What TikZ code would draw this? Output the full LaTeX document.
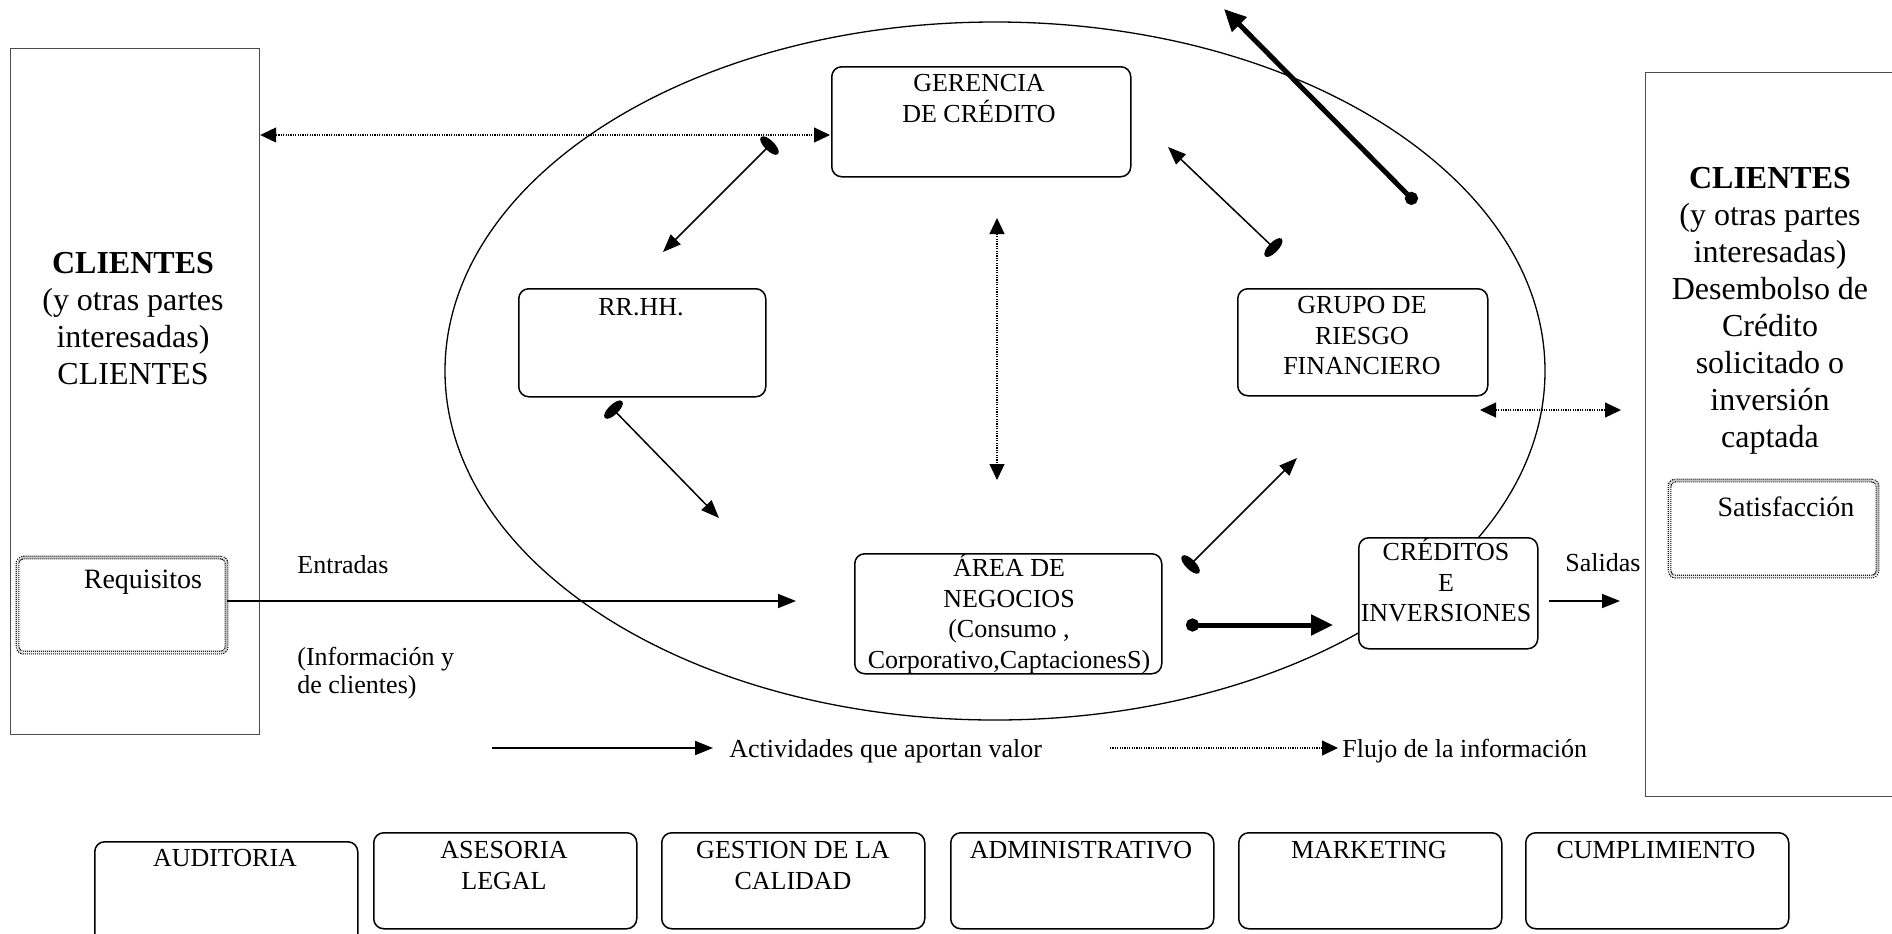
\documentclass[tikz,border=0pt]{standalone}
\usepackage{fontspec}
\setmainfont{Liberation Serif}
\usetikzlibrary{arrows.meta,shapes.geometric}

\tikzset{
  box/.style={draw, line width=0.75pt, rounded corners=5pt, fill=white, inner sep=0pt, anchor=north west},
  client/.style={draw=black!70, line width=0.6pt, inner sep=0pt, anchor=north west},
  dotbox/.style={draw, line width=0.55pt, dash pattern=on 0.5pt off 0.5pt, double, double distance=0.8pt,
    rounded corners=3pt, inner sep=0pt, anchor=north west},
  lbl/.style={inner sep=0pt, font=\fontsize{13}{15.3}\selectfont, align=center, anchor=north},
  lbll/.style={inner sep=0pt, font=\fontsize{13}{14}\selectfont, align=left, anchor=north west},
  big/.style={inner sep=0pt, font=\fontsize{16}{18.5}\selectfont, align=center, anchor=north},
  mid/.style={inner sep=0pt, font=\fontsize{14}{16}\selectfont},
  flow/.style={line width=0.8pt, -{Triangle[length=9pt,width=7pt]}},
  info/.style={line width=0.6pt, dash pattern=on 0.6pt off 0.6pt,
    {Triangle[length=8pt,width=7.5pt]}-{Triangle[length=8pt,width=7.5pt]}},
  infoone/.style={line width=0.6pt, dash pattern=on 0.6pt off 0.6pt, -{Triangle[length=8pt,width=7.5pt]}},
  ovalflow/.style={line width=0.75pt, {Ellipse[length=5pt,width=12pt]}-{Triangle[length=9pt,width=7pt]}},
  heavy/.style={line width=2.5pt, {Circle[length=6.5pt]}-{Triangle[length=11pt,width=10pt]}},
}

\begin{document}
\begin{tikzpicture}[x=0.5pt,y=-0.5pt]
\useasboundingbox (0,0) rectangle (1892,933);

% clients on both sides
\node[client, minimum width=124.5pt, minimum height=343pt] (cliL) at (10,48) {};
\node[client, minimum width=130pt, minimum height=362pt] (cliR) at (1645,72) {};
\node[big] (cliLT) at (133,252) {\textbf{CLIENTES}\\(y otras partes\\interesadas)\\CLIENTES};
\node[big] (cliRT) at (1770,167) {\textbf{CLIENTES}\\(y otras partes\\interesadas)\\Desembolso de\\Crédito\\solicitado o\\inversión\\captada};

% requirement and satisfaction boxes
\node[dotbox, minimum width=104.5pt, minimum height=47.5pt] (req) at (17,557) {};
\node[mid] (reqT) at (143,582) {Requisitos};
\node[dotbox, minimum width=104pt, minimum height=48pt] (sat) at (1669,480) {};
\node[mid] (satT) at (1786,507) {Satisfacción};

% process boundary
\node[draw, line width=0.65pt, ellipse, inner sep=0pt, minimum width=550pt, minimum height=349pt] (proc) at (995,371) {};

% inputs
\coordinate (entEnd) at (796,601);
\draw[flow] (req.east |- entEnd) -- (entEnd);
\node[lbll] (entT) at (297,555) {Entradas};
\node[lbll] (infT) at (297,647) {(Información y\\de clientes)};

% inner units
\node[box, minimum width=149.5pt, minimum height=55pt] (ger) at (831,66) {};
\node[lbl] (gerT) at (979,74) {GERENCIA\\DE CRÉDITO};
\node[box, minimum width=123.5pt, minimum height=54pt] (rrhh) at (518,288) {};
\node[lbl] (rrhhT) at (641,298) {RR.HH.};
\node[box, minimum width=125pt, minimum height=53.5pt] (grupo) at (1237,288) {};
\node[lbl] (grupoT) at (1362,296) {GRUPO DE\\RIESGO\\FINANCIERO};
\node[box, minimum width=153.5pt, minimum height=60pt] (area) at (854,553) {};
\node[lbl] (areaT) at (1009,554) {ÁREA DE\\NEGOCIOS\\(Consumo ,\\Corporativo,CaptacionesS)};
\node[box, minimum width=89.5pt, minimum height=55.5pt] (cred) at (1358,537) {};
\node[lbl] (credT) at (1446,538) {CRÉDITOS\\E\\INVERSIONES};

% connectors between units
\coordinate (gerIn) at (830,135);
\draw[info] (cliL.east |- gerIn) -- (gerIn);

\coordinate (o1) at (773,142);  \coordinate (t1) at (663,252);
\draw[ovalflow] (o1) -- (t1);
\coordinate (o2) at (1277,251); \coordinate (t2) at (1168,147);
\draw[ovalflow] (o2) -- (t2);
\coordinate (o3) at (610,406);  \coordinate (t3) at (719,518);
\draw[ovalflow] (o3) -- (t3);
\coordinate (o4) at (1187,568); \coordinate (t4) at (1297,458);
\draw[ovalflow] (o4) -- (t4);

\coordinate (vTop) at (997,218); \coordinate (vBot) at (997,480);
\draw[info] (vTop) -- (vBot);

\coordinate (hL) at (1480,410); \coordinate (hR) at (1621,410);
\draw[info] (hL) -- (hR);

\coordinate (dOut) at (1416,203); \coordinate (dTip) at (1224,9);
\draw[heavy] (dOut) -- (dTip);

\coordinate (aOut) at (1186,625); \coordinate (aTip) at (1333,625);
\draw[heavy] (aOut) -- (aTip);

% outputs
\node[lbl, anchor=center] (salT) at (1603,563) {Salidas};
\coordinate (sA) at (1549,601); \coordinate (sB) at (1620,601);
\draw[flow] (sA) -- (sB);

% legend
\node[lbl, anchor=west] (actT) at (729,751) {Actividades que aportan valor};
\coordinate (legA) at (492,748);
\draw[flow, line width=1pt] (legA) -- ([xshift=-8pt]actT.west |- legA);
\node[lbl, anchor=west] (fluT) at (1342,751) {Flujo de la información};
\coordinate (legB) at (1110,748);
\draw[infoone] (legB) -- ([xshift=-2pt]fluT.west |- legB);

% support areas
\node[box, minimum width=131.5pt, minimum height=55pt] (aud) at (94,841) {};
\node[lbl] (audT) at (225,849) {AUDITORIA};
\node[box, minimum width=131.5pt, minimum height=48pt] (ase) at (373,832) {};
\node[lbl] (aseT) at (504,841) {ASESORIA\\LEGAL};
\node[box, minimum width=131.5pt, minimum height=48pt] (ges) at (661,832) {};
\node[lbl] (gesT) at (793,841) {GESTION DE LA\\CALIDAD};
\node[box, minimum width=131.5pt, minimum height=48pt] (adm) at (950,832) {};
\node[lbl] (admT) at (1081,841) {ADMINISTRATIVO};
\node[box, minimum width=131.5pt, minimum height=48pt] (mkt) at (1238,832) {};
\node[lbl] (mktT) at (1369,841) {MARKETING};
\node[box, minimum width=131.5pt, minimum height=48pt] (cum) at (1525,832) {};
\node[lbl] (cumT) at (1656,841) {CUMPLIMIENTO};
\end{tikzpicture}
\end{document}
